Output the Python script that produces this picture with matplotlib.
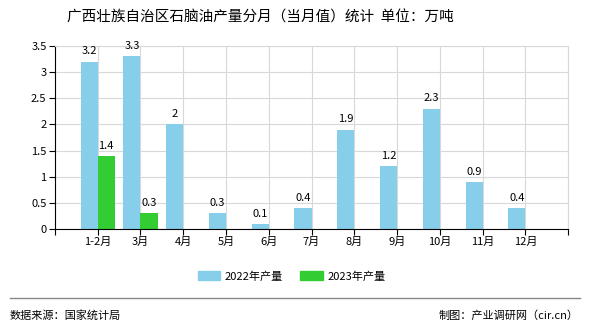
import numpy as np
import matplotlib.pyplot as plt
from matplotlib.lines import Line2D

plt.rcParams['font.family'] = ['Noto Sans CJK SC', 'DejaVu Sans']

# 数据
months = ['1-2月', '3月', '4月', '5月', '6月', '7月', '8月', '9月', '10月', '11月', '12月']
y2022 = [3.2, 3.3, 2, 0.3, 0.1, 0.4, 1.9, 1.2, 2.3, 0.9, 0.4]
y2023 = [1.4, 0.3]
labels2022 = ['3.2', '3.3', '2', '0.3', '0.1', '0.4', '1.9', '1.2', '2.3', '0.9', '0.4']
labels2023 = ['1.4', '0.3']

c2022 = '#87CEEB'
c2023 = '#33CC33'
w = 0.4

fig = plt.figure(figsize=(5.9, 3.3), dpi=100)
ax = fig.add_axes([0.093, 0.306, 0.87, 0.555])

x = np.arange(len(months))
x23 = np.arange(len(y2023))
ax.bar(x - w / 2, y2022, width=w, color=c2022, label='2022年产量', zorder=2)
ax.bar(x23 + w / 2, y2023, width=w, color=c2023, label='2023年产量', zorder=2)

for xi, v, t in zip(x, y2022, labels2022):
    ax.text(xi - w / 2, v + 0.1, t, ha='center', va='bottom', fontsize=8)
for xi, v, t in zip(x23, y2023, labels2023):
    ax.text(xi + w / 2, v + 0.1, t, ha='center', va='bottom', fontsize=8)

ax.set_xlim(-1, 11)
ax.set_ylim(0, 3.5)
ax.set_xticks(np.arange(-1, 12))
ax.set_xticklabels([''] + months + [''], fontsize=8)
ax.set_yticks(np.arange(0, 3.51, 0.5))
ax.set_yticklabels(['0', '0.5', '1', '1.5', '2', '2.5', '3', '3.5'], fontsize=8)
ax.tick_params(direction='out', length=4, color='black', pad=2)
ax.grid(True, color='#d8d8d8', linewidth=0.8, zorder=0)
ax.set_axisbelow(True)
for s in ['top', 'right']:
    ax.spines[s].set_color('#d8d8d8')
for s in ['left', 'bottom']:
    ax.spines[s].set_color('black')

fig.text(0.442, 0.948, '广西壮族自治区石脑油产量分月（当月值）统计  单位：万吨',
         ha='center', va='center', fontsize=10.5)

handles = [plt.Rectangle((0, 0), 1, 1, color=c2022), plt.Rectangle((0, 0), 1, 1, color=c2023)]
fig.legend(handles, ['2022年产量', '2023年产量'], loc='center', bbox_to_anchor=(0.494, 0.163),
           ncol=2, frameon=False, fontsize=8, handlelength=2.0, handleheight=0.8,
           columnspacing=1.6, handletextpad=0.4)

fig.add_artist(Line2D([0.017, 0.983], [0.097, 0.097], color='#888888', linewidth=1))
fig.text(0.017, 0.045, '数据来源：国家统计局', ha='left', va='center', fontsize=8)
fig.text(0.98, 0.045, '制图：产业调研网（cir.cn）', ha='right', va='center', fontsize=8)

fig.savefig('out.png', dpi=100)
